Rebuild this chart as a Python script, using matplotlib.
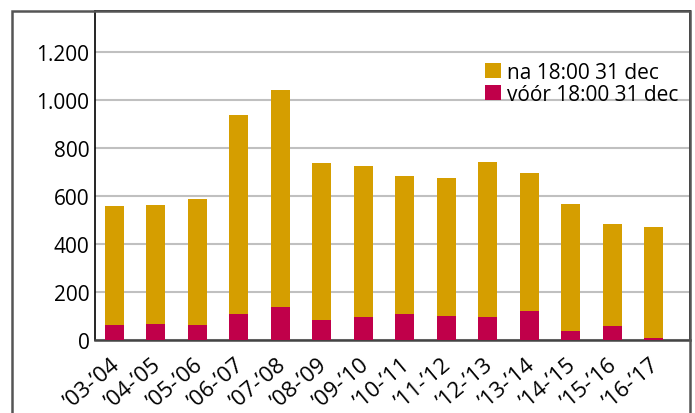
import matplotlib.pyplot as plt
import matplotlib.transforms as mtransforms
from matplotlib.patches import Rectangle
from matplotlib.ticker import FuncFormatter

seasons = ["\u201903-\u201904", "\u201904-\u201905", "\u201905-\u201906", "\u201906-\u201907",
           "\u201907-\u201908", "\u201908-\u201909", "\u201909-\u201910", "\u201910-\u201911",
           "\u201911-\u201912", "\u201912-\u201913", "\u201913-\u201914", "\u201914-\u201915",
           "\u201915-\u201916", "\u201916-\u201917"]
totaal = [560, 564, 587, 937, 1042, 737, 725, 683, 675, 742, 696, 567, 483, 471]
voor = [64, 68, 64, 109, 137, 85, 96, 110, 100, 96, 121, 37, 58, 8]
na = [t - v for t, v in zip(totaal, voor)]

kleur_na = "#d59e00"
kleur_voor = "#c0004a"

plt.rcParams['font.family'] = ['Open Sans', 'DejaVu Sans']

fig = plt.figure(figsize=(6.95, 4.14), dpi=100)
W, H = 695, 414
ax = fig.add_axes([95 / W, 1 - 341 / H, (690 - 95) / W, (341 - 12) / H])

x = range(len(seasons))
ax.bar(x, voor, width=0.46, color=kleur_voor, label="vóór 18:00 31 dec", zorder=3)
ax.bar(x, na, width=0.46, bottom=voor, color=kleur_na, label="na 18:00 31 dec", zorder=3)

ax.set_xlim(-0.47, 13.88)
ax.set_ylim(0, 1371)
ax.set_yticks(range(0, 1201, 200))
ax.yaxis.set_major_formatter(FuncFormatter(lambda v, p: f"{int(v):,}".replace(",", ".")))
ax.grid(axis='y', color='#c0c0c0', linewidth=1.5, zorder=0)
ax.tick_params(axis='y', length=0, pad=4, labelsize=15)
ax.tick_params(axis='x', length=0, pad=10, labelsize=16)
ax.set_xticks(list(x))
ax.set_xticklabels(seasons, rotation=40, ha='right', rotation_mode='anchor')
shift = mtransforms.ScaledTranslation(-4 / 100, 0, fig.dpi_scale_trans)
for lbl in ax.get_xticklabels():
    lbl.set_transform(lbl.get_transform() + shift)

for s in ['left', 'top', 'right']:
    ax.spines[s].set_linewidth(1.2)
    ax.spines[s].set_color('black')
ax.spines['bottom'].set_linewidth(1.8)
ax.spines['bottom'].set_color('#444444')

handles, labels = ax.get_legend_handles_labels()
ax.legend(handles[::-1], labels[::-1], loc='upper right', bbox_to_anchor=(1.005, 0.89),
          frameon=False, fontsize=15, handlelength=0.75, handleheight=0.75,
          handletextpad=0.3, labelspacing=0.05, borderaxespad=0.3)

# buitenkader
frame = Rectangle((12 / W, -0.2), (690 - 12) / W, 1.2 - 12 / H, transform=fig.transFigure,
                  fill=False, edgecolor='#555555', linewidth=1.8, clip_on=False)
fig.add_artist(frame)

fig.savefig("out.png", dpi=100)
